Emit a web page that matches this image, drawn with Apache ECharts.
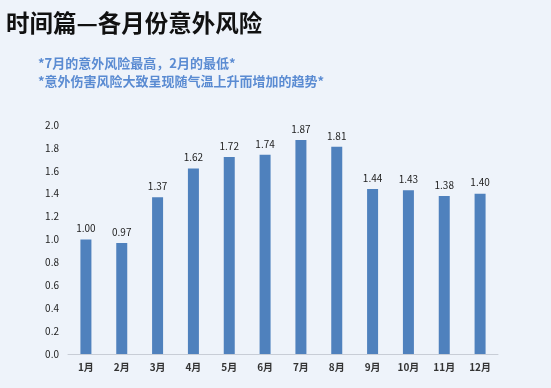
<!DOCTYPE html>
<html>
<head>
<meta charset="utf-8">
<script src="https://cdn.jsdelivr.net/npm/echarts@6/dist/echarts.min.js"></script>
<style>
html,body{margin:0;padding:0;background:#EEF3FA;}
#c{width:551px;height:388px;}
</style>
</head>
<body>
<div id="c"></div>
<script>
const categories = ['1月','2月','3月','4月','5月','6月','7月','8月','9月','10月','11月','12月'];
const riskValues = [1.00,0.97,1.37,1.62,1.72,1.74,1.87,1.81,1.44,1.43,1.38,1.40];
const yTicks = [0.0,0.2,0.4,0.6,0.8,1.0,1.2,1.4,1.6,1.8,2.0];
const titleText = '时间篇—各月份意外风险';
const noteLines = ['*7月的意外风险最高，2月的最低*','*意外伤害风险大致呈现随气温上升而增加的趋势*'];

const chart = echarts.init(document.getElementById('c'));
const font = '"Noto Sans CJK SC", "Noto Sans", sans-serif';
chart.setOption({
  backgroundColor: '#EEF3FA',
  animation: false,
  title: [
    {text: titleText, left: 1, top: 6, textStyle: {fontFamily: font, fontSize: 23.5, fontWeight: 'bold', color: '#111'}},
    {text: noteLines.join('\n'), left: 33, top: 49, textStyle: {fontFamily: font, fontSize: 13, fontWeight: 'bold', color: '#5A8BD2', lineHeight: 18}}
  ],
  grid: {left: 68, right: 53, top: 125, bottom: 34},
  xAxis: {
    type: 'category',
    data: categories,
    axisLine: {lineStyle: {color: '#C8CDD6'}},
    axisTick: {show: false},
    axisLabel: {fontFamily: font, fontSize: 10, fontWeight: 'bold', color: '#333', margin: 8}
  },
  yAxis: {
    type: 'value',
    min: 0, max: 2.0, interval: 0.2,
    splitLine: {show: false},
    axisLine: {show: false},
    axisTick: {show: false},
    axisLabel: {fontFamily: font, fontSize: 10, color: '#222', margin: 9,
      formatter: v => yTicks.find(t => Math.abs(t - v) < 1e-9).toFixed(1)}
  },
  series: [{
    type: 'bar',
    data: riskValues,
    barWidth: 11,
    itemStyle: {color: '#4F81BD'},
    label: {show: true, position: 'top', distance: 6, fontFamily: font, fontSize: 10, color: '#222',
      formatter: p => p.value.toFixed(2)}
  }]
});
</script>
</body>
</html>
